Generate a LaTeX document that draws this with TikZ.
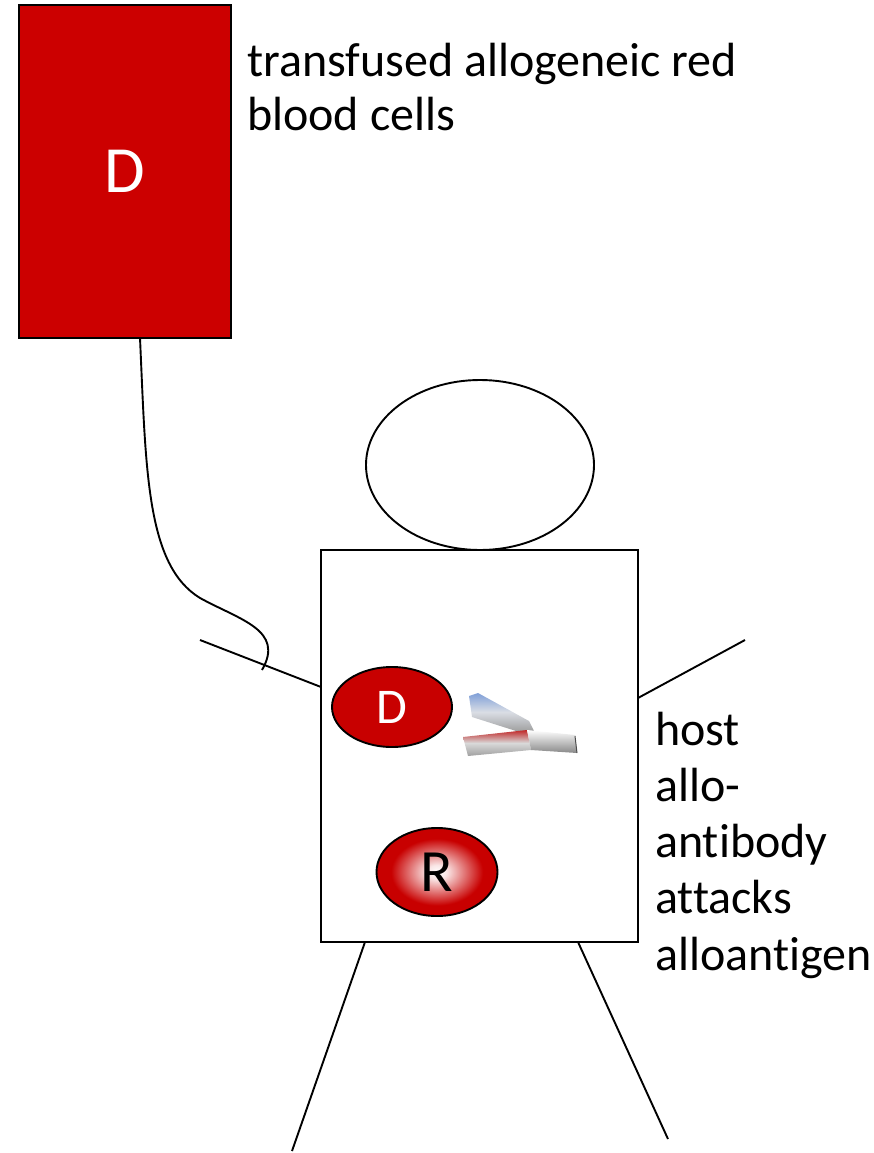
\documentclass[tikz,border=0pt]{standalone}
\usepackage{fontspec}
\setmainfont[Ligatures=NoCommon]{Carlito}
\usetikzlibrary{shapes.geometric}
\definecolor{bagred}{HTML}{CC0000}
\definecolor{cellred}{HTML}{C80000}
\definecolor{abblue}{HTML}{7F9FD8}
\definecolor{abred}{HTML}{C02828}
\definecolor{abgrey}{HTML}{A0A0A0}
\pgfdeclareradialshading{cellglow}{\pgfpoint{0bp}{0bp}}{color(0bp)=(white); color(4bp)=(white!90!cellred); color(19bp)=(cellred); color(25bp)=(cellred); color(50bp)=(cellred)}
\tikzset{
  outline/.style={draw=black, line width=1.9pt},
  limb/.style={draw=black, line width=1.9pt},
  label/.style={anchor=base west, align=left, inner sep=0pt},
}
\begin{document}
\begin{tikzpicture}[x=1pt,y=-1pt]
\useasboundingbox (0,0) rectangle (874,1153);

% blood bag with its tube
\node[outline, fill=bagred, rectangle, minimum width=212pt, minimum height=333pt, inner sep=0pt,
      text=white, font=\fontsize{66}{70}\selectfont] (bag) at (125,171.5) {D};
% the base anchor of a multi-line node sits on its last line
\node[label, font=\fontsize{48}{54}\selectfont] (baglabel) at (247,131) {transfused allogeneic red\\blood cells};
\coordinate (tubetop) at (140,338);
\coordinate (tubeend) at (262,670);
\draw[limb] (tubetop) .. controls (146,470) and (146,565) .. (200,598)
            .. controls (240,620) and (285,630) .. (tubeend);

% figure
\node[outline, ellipse, minimum width=228pt, minimum height=170pt, inner sep=0pt] (head) at (480,465) {};
\node[outline, rectangle, minimum width=317pt, minimum height=392pt, inner sep=0pt] (body) at (479.5,746) {};
\coordinate (lhand) at (200,640);
\coordinate (lshoulder) at (321,687);
\coordinate (rshoulder) at (638,698);
\coordinate (rhand) at (745,640);
\coordinate (lhip) at (365,942);
\coordinate (lfoot) at (292,1151);
\coordinate (rhip) at (578,942);
\coordinate (rfoot) at (668,1139);
\draw[limb] (lhand) -- (lshoulder);
\draw[limb] (rshoulder) -- (rhand);
\draw[limb] (lhip) -- (lfoot);
\draw[limb] (rhip) -- (rfoot);

% donor and recipient cells
\node[outline, ellipse, fill=cellred, minimum width=120pt, minimum height=80pt, inner sep=0pt,
      text=white, font=\fontsize{50}{54}\selectfont] (dcell) at (392,707) {D};
\node[outline, ellipse, shade, shading=cellglow, minimum width=121pt, minimum height=88pt, inner sep=0pt,
      text=black, font=\fontsize{60}{64}\selectfont] (rcell) at (437,872) {R};

% antibody: upper arm, lower arm and stem
\shade[top color=abblue, bottom color=abgrey, middle color=abblue!35!abgrey!35!white]
  (469,696) -- (478,693) -- (529,721) -- (534,731) -- (516,731) -- (472,717) -- cycle;
\shade[top color=abred, bottom color=abgrey, middle color=abgrey!40!white]
  (463,737) -- (527,730) -- (531,750) -- (468,756) -- cycle;
\shade[top color=white, bottom color=abgrey!85!black]
  (527,730) -- (575,735) -- (577,753) -- (531,750) -- cycle;
\draw[line width=1pt, black!70] (575,736) -- (577,753);

\node[label, font=\fontsize{48}{56.25}\selectfont] (hostlabel) at (655,970) {host\\allo-\\antibody\\attacks\\alloantigen};
\end{tikzpicture}
\end{document}
